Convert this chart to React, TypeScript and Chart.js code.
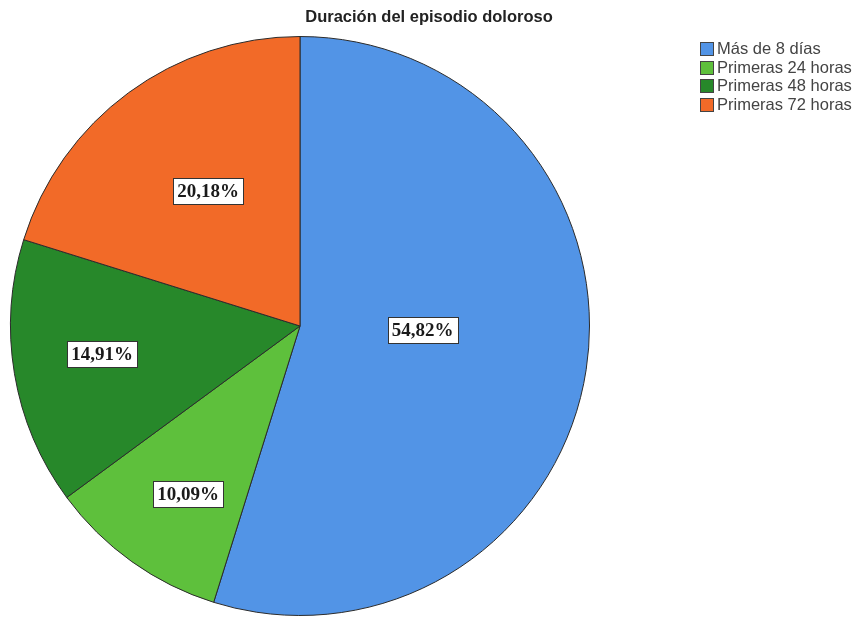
import React, { useEffect, useRef } from "react";
import { Chart, registerables } from "chart.js";

Chart.register(...registerables);

const TITLE = "Duración del episodio doloroso";
const categories = ["Más de 8 días", "Primeras 24 horas", "Primeras 48 horas", "Primeras 72 horas"];
const values = [54.82, 10.09, 14.91, 20.18];
const percentLabels = ["54,82%", "10,09%", "14,91%", "20,18%"];
const colors = ["#5294e6", "#5ec03c", "#27882a", "#f26a28"];

// label placement (fraction of radius, angular offset in degrees from slice middle)
const labelRadiusFraction = [0.424, 0.696, 0.69, 0.563];
const labelAngleOffset = [-6.8, -1.8, 1.5, 2];

const overlayPlugin = {
  id: "overlay",
  afterDatasetsDraw(chart: any) {
    const ctx = chart.ctx;
    const meta = chart.getDatasetMeta(0);
    ctx.save();
    ctx.font = "bold 19px 'Liberation Serif', 'Times New Roman', serif";
    ctx.textAlign = "center";
    ctx.textBaseline = "middle";
    meta.data.forEach((arc: any, i: number) => {
      const { x, y, startAngle, endAngle, outerRadius } = arc.getProps(
        ["x", "y", "startAngle", "endAngle", "outerRadius"],
        true
      );
      const mid = (startAngle + endAngle) / 2 + (labelAngleOffset[i] * Math.PI) / 180;
      const d = outerRadius * labelRadiusFraction[i];
      const lx = x + Math.cos(mid) * d;
      const ly = y + Math.sin(mid) * d;
      const text = percentLabels[i];
      const w = Math.round(ctx.measureText(text).width + 8);
      const h = 26;
      const bx = Math.round(lx - w / 2) + 0.5;
      const by = Math.round(ly - h / 2) + 0.5;
      ctx.fillStyle = "#ffffff";
      ctx.fillRect(bx, by, w, h);
      ctx.strokeStyle = "#333333";
      ctx.lineWidth = 1;
      ctx.strokeRect(bx, by, w, h);
      ctx.fillStyle = "#1a1a1a";
      ctx.fillText(text, lx, ly + 1);
    });
    ctx.restore();
  },
  afterDraw(chart: any) {
    const ctx = chart.ctx;
    ctx.save();
    // title
    ctx.font = "bold 16.5px 'Liberation Sans', Arial, sans-serif";
    ctx.fillStyle = "#222222";
    ctx.textAlign = "center";
    ctx.textBaseline = "middle";
    ctx.fillText(TITLE, 429, 17);
    // legend
    ctx.font = "16.5px 'Liberation Sans', Arial, sans-serif";
    ctx.textAlign = "left";
    categories.forEach((c, i) => {
      const top = 42 + i * 18.5;
      ctx.fillStyle = colors[i];
      ctx.fillRect(700.5, Math.round(top) + 0.5, 13, 13);
      ctx.strokeStyle = "#444444";
      ctx.lineWidth = 1;
      ctx.strokeRect(700.5, Math.round(top) + 0.5, 13, 13);
      ctx.fillStyle = "#444444";
      ctx.fillText(c, 717, Math.round(top) + 7.5);
    });
    ctx.restore();
  },
};

export default function App() {
  const ref = useRef<HTMLCanvasElement>(null);
  useEffect(() => {
    document.body.style.margin = "0";
    const chart = new Chart(ref.current!, {
      type: "pie",
      data: {
        labels: categories,
        datasets: [
          {
            data: values,
            backgroundColor: colors,
            borderColor: "#2b2b2b",
            borderWidth: 1,
          },
        ],
      },
      options: {
        animation: false,
        responsive: false,
        layout: { padding: { left: 10, top: 36, right: 264, bottom: 1 } },
        plugins: {
          legend: { display: false },
          title: { display: false },
          tooltip: { enabled: false },
        },
      },
      plugins: [overlayPlugin],
    });
    return () => chart.destroy();
  }, []);
  return (
    <div style={{ position: "fixed", left: 0, top: 0, width: 854, height: 617, background: "#fff" }}>
      <canvas ref={ref} width={854} height={617} />
    </div>
  );
}
